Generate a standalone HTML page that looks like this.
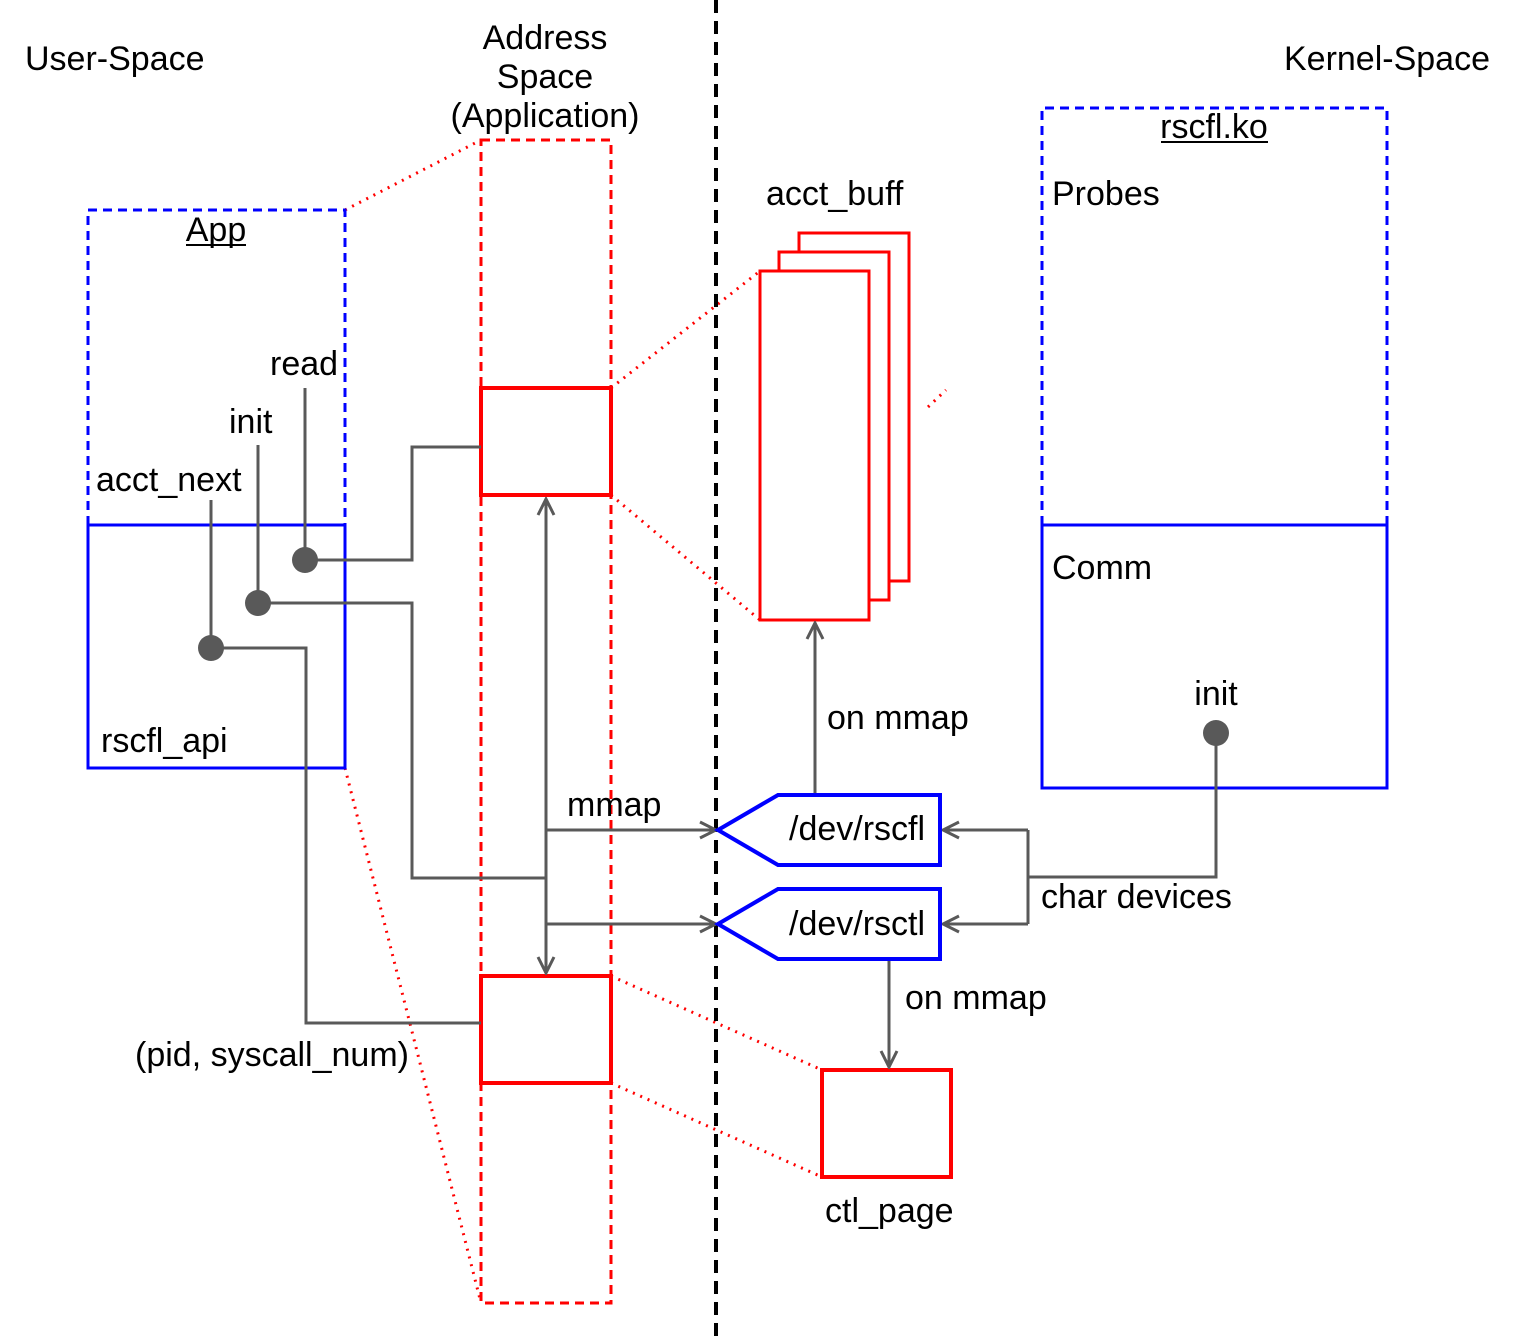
<!DOCTYPE html>
<html><head><style>body{margin:0;background:#fff}svg{display:block}text{font-family:"Liberation Sans",sans-serif;font-size:34px;fill:#000}</style></head>
<body>
<svg width="1520" height="1340" viewBox="0 0 1520 1340" xmlns="http://www.w3.org/2000/svg">
<defs>
<marker id="a" viewBox="0 0 20 20" refX="18" refY="10" markerWidth="20" markerHeight="20" markerUnits="userSpaceOnUse" orient="auto-start-reverse"><path d="M2,2 L18,10 L2,18" fill="none" stroke="#595959" stroke-width="3"/></marker>
</defs>
<g stroke="#f00" stroke-width="3" stroke-dasharray="2,6" fill="none">
<line x1="345" y1="210" x2="481" y2="140"/>
<line x1="611" y1="388" x2="760" y2="271"/>
<line x1="611" y1="495" x2="760" y2="620"/>
<line x1="345" y1="768" x2="481" y2="1303"/>
<line x1="611" y1="976" x2="822" y2="1070"/>
<line x1="611" y1="1083" x2="822" y2="1177"/>
<line x1="928" y1="407" x2="946" y2="390"/>
</g>
<line x1="716" y1="0" x2="716" y2="1340" stroke="#000" stroke-width="4" stroke-dasharray="13,8"/>
<rect x="481" y="140" width="130" height="1163" fill="none" stroke="#f00" stroke-width="3" stroke-dasharray="9,6"/>
<rect x="481" y="388" width="130" height="107" fill="#fff" stroke="#f00" stroke-width="4"/>
<rect x="481" y="976" width="130" height="107" fill="#fff" stroke="#f00" stroke-width="4"/>
<rect x="799" y="233" width="110" height="348" fill="#fff" stroke="#f00" stroke-width="3"/>
<rect x="779" y="252" width="110" height="348" fill="#fff" stroke="#f00" stroke-width="3"/>
<rect x="760" y="271" width="109" height="349" fill="#fff" stroke="#f00" stroke-width="3"/>
<rect x="822" y="1070" width="129" height="107" fill="#fff" stroke="#f00" stroke-width="4"/>
<path d="M88,525 V210 H345 V525" fill="none" stroke="#00f" stroke-width="3" stroke-dasharray="9,6"/>
<rect x="88" y="525" width="257" height="243" fill="none" stroke="#00f" stroke-width="3"/>
<path d="M1042,525 V108 H1387 V525" fill="none" stroke="#00f" stroke-width="3" stroke-dasharray="9,6"/>
<rect x="1042" y="525" width="345" height="263" fill="none" stroke="#00f" stroke-width="3"/>
<g stroke="#595959" stroke-width="3" fill="none">
<path d="M305,388 V560 H412 V447 H481"/>
<path d="M258,445 V603 H412 V878 H546"/>
<path d="M211,500 V648 H306 V1023 H481"/>
<line x1="546" y1="499" x2="546" y2="973" marker-start="url(#a)" marker-end="url(#a)"/>
<line x1="546" y1="830" x2="716" y2="830" marker-end="url(#a)"/>
<line x1="546" y1="924" x2="716" y2="924" marker-end="url(#a)"/>
<path d="M1216,733 V877 H1028"/>
<line x1="1028" y1="830" x2="1028" y2="924"/>
<line x1="1028" y1="830" x2="943" y2="830" marker-end="url(#a)"/>
<line x1="1028" y1="924" x2="943" y2="924" marker-end="url(#a)"/>
<line x1="815" y1="795" x2="815" y2="623" marker-end="url(#a)"/>
<line x1="889" y1="959" x2="889" y2="1067" marker-end="url(#a)"/>
</g>
<g fill="#595959"><circle cx="305" cy="560" r="13"/><circle cx="258" cy="603" r="13"/><circle cx="211" cy="648" r="13"/><circle cx="1216" cy="733" r="13"/></g>
<polygon points="718,830 778,795 940,795 940,865 778,865" fill="#fff" stroke="#00f" stroke-width="4"/>
<polygon points="718,924 778,889 940,889 940,959 778,959" fill="#fff" stroke="#00f" stroke-width="4"/>
<text x="25" y="70">User-Space</text>
<text x="545" y="49" text-anchor="middle">Address</text>
<text x="545" y="88" text-anchor="middle">Space</text>
<text x="545" y="127" text-anchor="middle">(Application)</text>
<text x="1490" y="70" text-anchor="end">Kernel-Space</text>
<text x="216" y="241" text-anchor="middle">App</text>
<line x1="186" y1="245" x2="246" y2="245" stroke="#000" stroke-width="2"/>
<text x="270" y="375">read</text>
<text x="229" y="433">init</text>
<text x="96" y="491">acct_next</text>
<text x="101" y="752">rscfl_api</text>
<text x="766" y="205">acct_buff</text>
<text x="1214" y="138" text-anchor="middle">rscfl.ko</text>
<line x1="1161" y1="142" x2="1268" y2="142" stroke="#000" stroke-width="2"/>
<text x="1052" y="205">Probes</text>
<text x="1052" y="579">Comm</text>
<text x="1216" y="705" text-anchor="middle">init</text>
<text x="827" y="729">on mmap</text>
<text x="567" y="816">mmap</text>
<text x="789" y="840">/dev/rscfl</text>
<text x="789" y="935">/dev/rsctl</text>
<text x="1041" y="908">char devices</text>
<text x="905" y="1009">on mmap</text>
<text x="135" y="1066">(pid, syscall_num)</text>
<text x="825" y="1222">ctl_page</text>
</svg>
</body></html>
